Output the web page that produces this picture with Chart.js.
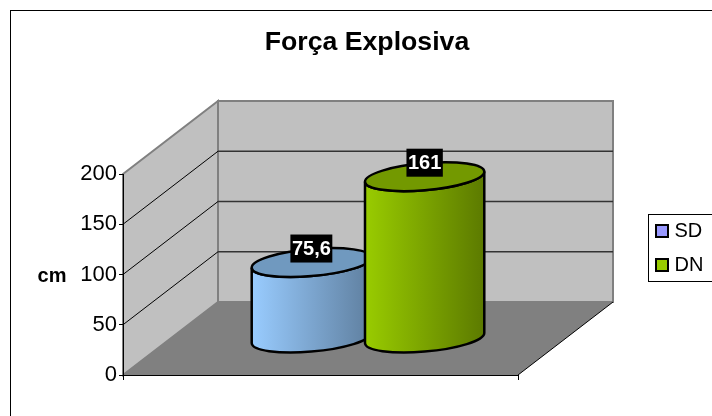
<!DOCTYPE html>
<html>
<head>
<meta charset="utf-8">
<title>Força Explosiva</title>
<script src="https://cdn.jsdelivr.net/npm/chart.js@4"></script>
<style>
  html, body { margin: 0; padding: 0; background: #fff; }
  canvas { display: block; }
</style>
</head>
<body>
<canvas id="barChart" width="712" height="416"></canvas>
<script>
const chartTitle = 'Força Explosiva';
const axisTitle = 'cm';
const categories = [''];
const seriesNames = ['SD', 'DN'];
const seriesValues = [75.6, 161];
const legendColors = ['#9999FF', '#99CC00'];
const sideLeftColors = ['#99CCFF', '#99CC00'];
const sideRightColors = ['#5F7F9F', '#5C7A00'];
const topColors = ['#7099BF', '#739900'];
const yTicks = [0, 50, 100, 150, 200];

const fontFamily = '"Liberation Sans", Arial, sans-serif';
// how far the back wall sits behind the front plane
const depthX = 95;
const depthY = -73;

function polygon(ctx, points, fill, stroke, width) {
  ctx.beginPath();
  points.forEach((p, i) => i ? ctx.lineTo(p[0], p[1]) : ctx.moveTo(p[0], p[1]));
  ctx.closePath();
  ctx.fillStyle = fill;
  ctx.fill();
  if (stroke) {
    ctx.strokeStyle = stroke;
    ctx.lineWidth = width;
    ctx.stroke();
  }
}

function line(ctx, x1, y1, x2, y2, color, width) {
  ctx.beginPath();
  ctx.moveTo(x1, y1);
  ctx.lineTo(x2, y2);
  ctx.strokeStyle = color;
  ctx.lineWidth = width;
  ctx.stroke();
}

function drawCylinder(ctx, bar, i) {
  const rx = bar.width / 2;
  const ry = 13.6;
  const h = bar.base - bar.y;
  const cx = bar.x + depthX / 2;
  const cy = bar.y + depthY / 2;

  ctx.save();
  // the ellipses lean up to the right
  ctx.transform(1, -5 / rx, 0, 1, cx, cy);
  ctx.lineWidth = 2.5;
  ctx.strokeStyle = '#000';

  // gradient coordinates follow the transform above
  const side = ctx.createLinearGradient(-rx, 0, rx, 0);
  side.addColorStop(0, sideLeftColors[i]);
  side.addColorStop(1, sideRightColors[i]);

  ctx.beginPath();
  ctx.moveTo(-rx, 0);
  ctx.lineTo(-rx, h);
  ctx.ellipse(0, h, rx, ry, 0, Math.PI, 0, true);
  ctx.lineTo(rx, 0);
  ctx.ellipse(0, 0, rx, ry, 0, 0, Math.PI, false);
  ctx.closePath();
  ctx.fillStyle = side;
  ctx.fill();
  ctx.stroke();

  ctx.beginPath();
  ctx.ellipse(0, 0, rx, ry, 0, 0, Math.PI * 2);
  ctx.fillStyle = topColors[i];
  ctx.fill();
  ctx.stroke();
  ctx.restore();
}

function drawValueLabel(ctx, bar, value) {
  const text = String(value).replace('.', ',');
  const cx = bar.x + depthX / 2;
  const cy = bar.y + depthY / 2 - 14;
  ctx.font = 'bold 20px ' + fontFamily;
  const w = ctx.measureText(text).width + 3;
  ctx.fillStyle = '#000';
  ctx.fillRect(cx - w / 2, cy - 14, w, 28);
  ctx.fillStyle = '#fff';
  ctx.textAlign = 'center';
  ctx.textBaseline = 'middle';
  ctx.fillText(text, cx, cy + 1);
}

const scene3d = {
  id: 'scene3d',
  afterLayout(chart) {
    // the frame runs past the right edge, the title is centred on it
    const title = chart.titleBlock;
    title.left = 10;
    title.right = 724;

    const legend = chart.legend;
    legend.left = 645.5;
    legend.top = 207;
    legend.right = 712;
    legend.bottom = 320; // roomy, the legend wraps to a new column if this is tight
  },
  beforeDraw(chart) {
    const ctx = chart.ctx;
    const { left, right, top, bottom } = chart.chartArea;
    const y = chart.scales.y;

    ctx.save();
    ctx.fillStyle = '#fff';
    ctx.fillRect(0, 0, chart.width, chart.height);
    line(ctx, 10.5, 10, 10.5, chart.height, '#000', 1);
    line(ctx, 10, 10.5, chart.width, 10.5, '#000', 1);

    polygon(ctx, [[left, top], [left + depthX, top + depthY], [left + depthX, bottom + depthY], [left, bottom]], '#C0C0C0', '#808080', 2);
    polygon(ctx, [[left + depthX, top + depthY], [right + depthX, top + depthY], [right + depthX, bottom + depthY], [left + depthX, bottom + depthY]], '#C0C0C0', '#808080', 2);
    polygon(ctx, [[left, bottom], [left + depthX, bottom + depthY], [right + depthX, bottom + depthY], [right, bottom]], '#808080');

    yTicks.forEach(v => {
      if (v === 0 || v === 200) return;
      const py = y.getPixelForValue(v);
      line(ctx, left, py, left + depthX, py + depthY, '#000', 1);
      line(ctx, left + depthX, py + depthY, right + depthX, py + depthY, '#333', 1.5);
    });
    line(ctx, right, bottom, right + depthX, bottom + depthY, '#000', 1);

    // axis title stays horizontal, so it is not the scale's own title
    ctx.font = 'bold 20px ' + fontFamily;
    ctx.fillStyle = '#000';
    ctx.textAlign = 'center';
    ctx.textBaseline = 'middle';
    ctx.fillText(axisTitle, 52, y.getPixelForValue(100) + 2);

    // legend frame
    ctx.strokeStyle = '#000';
    ctx.lineWidth = 1;
    ctx.strokeRect(648.5, 214.5, 80, 67);
    ctx.restore();
  },
  beforeDatasetsDraw(chart) {
    const ctx = chart.ctx;
    ctx.save();
    chart.data.datasets.forEach((ds, i) => {
      drawCylinder(ctx, chart.getDatasetMeta(i).data[0], i);
    });
    chart.data.datasets.forEach((ds, i) => {
      drawValueLabel(ctx, chart.getDatasetMeta(i).data[0], ds.data[0]);
    });
    ctx.restore();
    return false; // flat bars are replaced by the cylinders
  }
};

new Chart(document.getElementById('barChart').getContext('2d'), {
  type: 'bar',
  data: {
    labels: categories,
    datasets: seriesNames.map((name, i) => ({
      label: name,
      data: [seriesValues[i]],
      backgroundColor: legendColors[i],
      borderColor: '#000',
      borderWidth: 2,
      categoryPercentage: 0.5736,
      barPercentage: 1.053
    }))
  },
  options: {
    responsive: false,
    animation: false,
    layout: { padding: { left: 0, right: 194, top: 0, bottom: 36 } },
    plugins: {
      tooltip: { enabled: false },
      title: {
        display: true,
        text: chartTitle,
        color: '#000',
        font: { family: fontFamily, size: 26.67, weight: 'bold' },
        padding: { top: 27, bottom: 115 }
      },
      legend: {
        position: 'chartArea',
        align: 'start',
        labels: {
          color: '#000',
          font: { family: fontFamily, size: 20 },
          // narrow slot with a rect point keeps the text close to the swatch
          usePointStyle: true,
          pointStyle: 'rect',
          boxWidth: 5,
          boxHeight: 12,
          padding: 14
        }
      }
    },
    scales: {
      x: {
        ticks: { display: false },
        grid: { drawOnChartArea: false, color: '#000', tickLength: 5 },
        border: { color: '#000', width: 1 }
      },
      y: {
        min: 0,
        max: 200,
        afterFit(scale) { scale.width = 123; },
        afterBuildTicks(scale) { scale.ticks = yTicks.map(v => ({ value: v })); },
        ticks: { color: '#000', font: { family: fontFamily, size: 22 }, padding: 2 },
        grid: { drawOnChartArea: false, color: '#000', tickLength: 4 },
        border: { color: '#000', width: 1 }
      }
    }
  },
  plugins: [scene3d]
});
</script>
</body>
</html>
